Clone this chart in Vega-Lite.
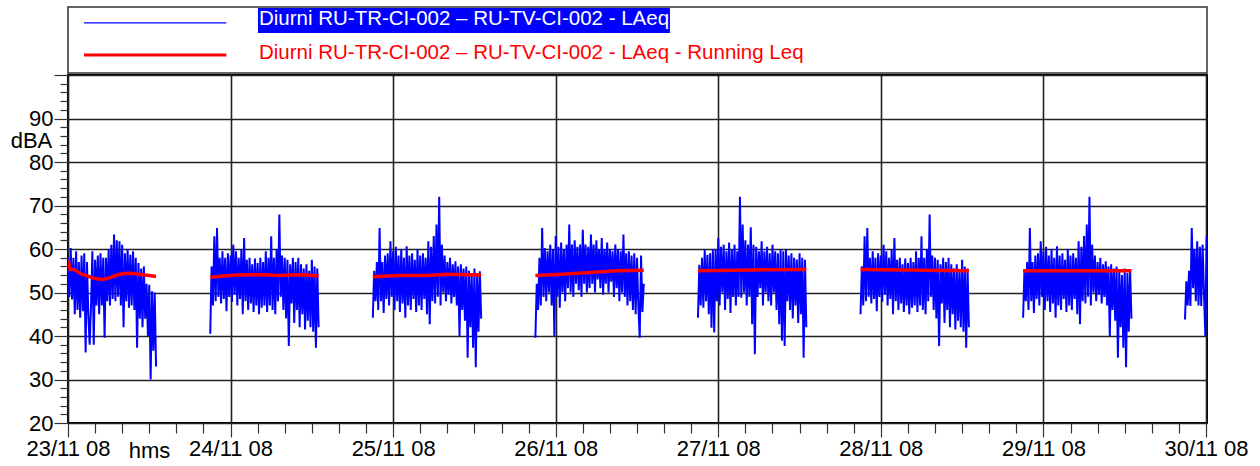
{
"$schema": "https://vega.github.io/schema/vega-lite/v6.json",
"background": "white",
"padding": {"left": 9, "top": 6, "right": 5, "bottom": 5},
"config": {"view": {"stroke": null}, "font": "Liberation Sans"},
"spacing": 2,
"bounds": "flush",
"datasets": {
"legend": [{"series": "Diurni RU-TR-CI-002 – RU-TV-CI-002 - LAeq"}, {"series": "Diurni RU-TR-CI-002 – RU-TV-CI-002 - LAeq - Running Leq"}],
"laeq": [
{"h":0,"v":58},{"h":0.2,"v":49},{"h":0.4,"v":60.2},{"h":0.6,"v":48.4},{"h":0.8,"v":58},{"h":1,"v":45},{"h":1.2,"v":59.5},{"h":1.4,"v":46},{"h":1.6,"v":57},{"h":1.8,"v":44.2},{"h":2,"v":58.5},{"h":2.2,"v":45.7},{"h":2.4,"v":59},{"h":2.6,"v":36.2},{"h":2.8,"v":57},{"h":3,"v":45},{"h":3.2,"v":38},{"h":3.4,"v":47},{"h":3.6,"v":59.5},{"h":3.8,"v":38},{"h":4,"v":57.5},{"h":4.2,"v":47},{"h":4.4,"v":58.5},{"h":4.6,"v":45},{"h":4.8,"v":59},{"h":5,"v":47},{"h":5.2,"v":58},{"h":5.4,"v":39.6},{"h":5.6,"v":58},{"h":5.8,"v":48},{"h":6,"v":60},{"h":6.2,"v":47},{"h":6.4,"v":61},{"h":6.6,"v":48.5},{"h":6.8,"v":63.3},{"h":7,"v":48},{"h":7.2,"v":62},{"h":7.4,"v":49},{"h":7.6,"v":61.8},{"h":7.8,"v":47},{"h":8,"v":61},{"h":8.2,"v":42},{"h":8.4,"v":59},{"h":8.6,"v":48},{"h":8.8,"v":60},{"h":9,"v":46.5},{"h":9.2,"v":58.7},{"h":9.4,"v":47},{"h":9.6,"v":59.5},{"h":9.8,"v":46},{"h":10,"v":58},{"h":10.2,"v":37.3},{"h":10.4,"v":56.8},{"h":10.6,"v":44},{"h":10.8,"v":55.5},{"h":11,"v":42},{"h":11.2,"v":56},{"h":11.4,"v":44},{"h":11.6,"v":52},{"h":11.8,"v":40},{"h":12,"v":51.8},{"h":12.2,"v":30},{"h":12.4,"v":50.3},{"h":12.6,"v":36.6},{"h":12.8,"v":50},{"h":13,"v":33},
{"h":17,"v":null},
{"h":21,"v":40.5},{"h":21.2,"v":56},{"h":21.4,"v":47},{"h":21.6,"v":62.9},{"h":21.8,"v":48},{"h":22,"v":64.8},{"h":22.2,"v":49},{"h":22.4,"v":58},{"h":22.6,"v":47.5},{"h":22.8,"v":59.5},{"h":23,"v":48.5},{"h":23.2,"v":58},{"h":23.4,"v":45.7},{"h":23.6,"v":59},{"h":23.8,"v":49},{"h":24,"v":58.5},{"h":24.2,"v":47.8},{"h":24.4,"v":61},{"h":24.6,"v":49.5},{"h":24.8,"v":59.5},{"h":25,"v":47},{"h":25.2,"v":58},{"h":25.4,"v":48.5},{"h":25.6,"v":60},{"h":25.8,"v":45},{"h":26,"v":62.5},{"h":26.2,"v":48},{"h":26.4,"v":57.5},{"h":26.6,"v":46},{"h":26.8,"v":58},{"h":27,"v":47.5},{"h":27.2,"v":56.5},{"h":27.4,"v":45.5},{"h":27.6,"v":57.8},{"h":27.8,"v":47},{"h":28,"v":56.8},{"h":28.2,"v":45},{"h":28.4,"v":58},{"h":28.6,"v":46.5},{"h":28.8,"v":57},{"h":29,"v":47},{"h":29.2,"v":59.5},{"h":29.4,"v":45.5},{"h":29.6,"v":58},{"h":29.8,"v":47},{"h":30,"v":62.9},{"h":30.2,"v":46},{"h":30.4,"v":58},{"h":30.6,"v":45},{"h":30.8,"v":60},{"h":31,"v":48},{"h":31.2,"v":67.9},{"h":31.4,"v":49},{"h":31.6,"v":58.5},{"h":31.8,"v":46},{"h":32,"v":58},{"h":32.2,"v":44},{"h":32.4,"v":57.5},{"h":32.6,"v":37.7},{"h":32.8,"v":56.5},{"h":33,"v":47.5},{"h":33.2,"v":58},{"h":33.4,"v":43},{"h":33.6,"v":57},{"h":33.8,"v":46},{"h":34,"v":58},{"h":34.2,"v":42},{"h":34.4,"v":56.5},{"h":34.6,"v":45},{"h":34.8,"v":55.5},{"h":35,"v":41.5},{"h":35.2,"v":56.5},{"h":35.4,"v":43.5},{"h":35.6,"v":55},{"h":35.8,"v":42},{"h":36,"v":57.5},{"h":36.2,"v":41},{"h":36.4,"v":56},{"h":36.6,"v":37.3},{"h":36.8,"v":55.5},{"h":37,"v":42},
{"h":41,"v":null},
{"h":45,"v":44.2},{"h":45.2,"v":55},{"h":45.4,"v":48},{"h":45.6,"v":57},{"h":45.8,"v":46},{"h":46,"v":64.8},{"h":46.2,"v":48},{"h":46.4,"v":57},{"h":46.6,"v":45.3},{"h":46.8,"v":58.5},{"h":47,"v":48.5},{"h":47.2,"v":59},{"h":47.4,"v":47},{"h":47.6,"v":61.8},{"h":47.8,"v":49},{"h":48,"v":59.5},{"h":48.2,"v":46},{"h":48.4,"v":60.5},{"h":48.6,"v":48},{"h":48.8,"v":58.5},{"h":49,"v":45.5},{"h":49.2,"v":60},{"h":49.4,"v":47.5},{"h":49.6,"v":58},{"h":49.8,"v":44.2},{"h":50,"v":60.6},{"h":50.2,"v":47},{"h":50.4,"v":58.5},{"h":50.6,"v":46},{"h":50.8,"v":59},{"h":51,"v":48.5},{"h":51.2,"v":57.5},{"h":51.4,"v":45.5},{"h":51.6,"v":60},{"h":51.8,"v":47},{"h":52,"v":58.5},{"h":52.2,"v":46},{"h":52.4,"v":59},{"h":52.6,"v":48.5},{"h":52.8,"v":58},{"h":53,"v":45},{"h":53.2,"v":61.8},{"h":53.4,"v":42.7},{"h":53.6,"v":60.5},{"h":53.8,"v":48},{"h":54,"v":63},{"h":54.2,"v":47.5},{"h":54.4,"v":65.6},{"h":54.6,"v":49},{"h":54.8,"v":72},{"h":55,"v":47},{"h":55.2,"v":61},{"h":55.4,"v":50},{"h":55.6,"v":58.5},{"h":55.8,"v":48},{"h":56,"v":57},{"h":56.2,"v":49.5},{"h":56.4,"v":58},{"h":56.6,"v":47.5},{"h":56.8,"v":56.5},{"h":57,"v":49},{"h":57.2,"v":57.2},{"h":57.4,"v":47},{"h":57.6,"v":56},{"h":57.8,"v":40},{"h":58,"v":56.5},{"h":58.2,"v":46},{"h":58.4,"v":55.5},{"h":58.6,"v":43.5},{"h":58.8,"v":56},{"h":59,"v":35},{"h":59.2,"v":55},{"h":59.4,"v":42},{"h":59.6,"v":54},{"h":59.8,"v":37.3},{"h":60,"v":55.5},{"h":60.2,"v":32.8},{"h":60.4,"v":54.5},{"h":60.6,"v":41},{"h":60.8,"v":54.9},{"h":61,"v":44},
{"h":65,"v":null},
{"h":69,"v":39.6},{"h":69.2,"v":52},{"h":69.4,"v":46},{"h":69.6,"v":58},{"h":69.8,"v":47},{"h":70,"v":64.8},{"h":70.2,"v":49},{"h":70.4,"v":60.2},{"h":70.6,"v":48},{"h":70.8,"v":59.5},{"h":71,"v":50},{"h":71.2,"v":61},{"h":71.4,"v":47},{"h":71.6,"v":60},{"h":71.8,"v":40},{"h":72,"v":63},{"h":72.2,"v":49},{"h":72.4,"v":60.5},{"h":72.6,"v":46.5},{"h":72.8,"v":61.5},{"h":73,"v":50},{"h":73.2,"v":60},{"h":73.4,"v":48},{"h":73.6,"v":61},{"h":73.8,"v":51},{"h":74,"v":65.6},{"h":74.2,"v":50},{"h":74.4,"v":61},{"h":74.6,"v":49},{"h":74.8,"v":62},{"h":75,"v":52},{"h":75.2,"v":60.5},{"h":75.4,"v":50.5},{"h":75.6,"v":61},{"h":75.8,"v":49},{"h":76,"v":64.4},{"h":76.2,"v":52},{"h":76.4,"v":61},{"h":76.6,"v":50},{"h":76.8,"v":60.5},{"h":77,"v":51},{"h":77.2,"v":63.3},{"h":77.4,"v":52},{"h":77.6,"v":61},{"h":77.8,"v":50},{"h":78,"v":62},{"h":78.2,"v":53},{"h":78.4,"v":60},{"h":78.6,"v":51},{"h":78.8,"v":62.5},{"h":79,"v":49.5},{"h":79.2,"v":60},{"h":79.4,"v":52},{"h":79.6,"v":61.5},{"h":79.8,"v":50},{"h":80,"v":60},{"h":80.2,"v":52.5},{"h":80.4,"v":59.5},{"h":80.6,"v":49},{"h":80.8,"v":61},{"h":81,"v":51},{"h":81.2,"v":60},{"h":81.4,"v":48},{"h":81.6,"v":59.5},{"h":81.8,"v":50},{"h":82,"v":63.3},{"h":82.2,"v":49},{"h":82.4,"v":59},{"h":82.6,"v":47},{"h":82.8,"v":59.5},{"h":83,"v":48},{"h":83.2,"v":58.5},{"h":83.4,"v":46},{"h":83.6,"v":59},{"h":83.8,"v":45},{"h":84,"v":58},{"h":84.2,"v":47},{"h":84.4,"v":39.6},{"h":84.6,"v":58.5},{"h":84.8,"v":45.5},{"h":85,"v":52},
{"h":89,"v":null},
{"h":93,"v":44.2},{"h":93.2,"v":56.4},{"h":93.4,"v":47},{"h":93.6,"v":58},{"h":93.8,"v":46.5},{"h":94,"v":59.8},{"h":94.2,"v":48},{"h":94.4,"v":58.7},{"h":94.6,"v":45},{"h":94.8,"v":59},{"h":95,"v":41.9},{"h":95.2,"v":60},{"h":95.4,"v":40.8},{"h":95.6,"v":60},{"h":95.8,"v":48},{"h":96,"v":62.5},{"h":96.2,"v":47},{"h":96.4,"v":60.5},{"h":96.6,"v":50},{"h":96.8,"v":61},{"h":97,"v":46},{"h":97.2,"v":59.5},{"h":97.4,"v":48.5},{"h":97.6,"v":61.5},{"h":97.8,"v":45.3},{"h":98,"v":60},{"h":98.2,"v":49},{"h":98.4,"v":61},{"h":98.6,"v":47},{"h":98.8,"v":59.5},{"h":99,"v":49},{"h":99.2,"v":72},{"h":99.4,"v":48.8},{"h":99.6,"v":65.6},{"h":99.8,"v":50},{"h":100,"v":62},{"h":100.2,"v":47},{"h":100.4,"v":61},{"h":100.6,"v":49},{"h":100.8,"v":65},{"h":101,"v":42.7},{"h":101.2,"v":61},{"h":101.4,"v":35.8},{"h":101.6,"v":60.5},{"h":101.8,"v":49},{"h":102,"v":59.5},{"h":102.2,"v":51},{"h":102.4,"v":61.8},{"h":102.6,"v":47},{"h":102.8,"v":59.5},{"h":103,"v":50},{"h":103.2,"v":60.5},{"h":103.4,"v":48},{"h":103.6,"v":59},{"h":103.8,"v":47},{"h":104,"v":61},{"h":104.2,"v":50},{"h":104.4,"v":59.5},{"h":104.6,"v":46},{"h":104.8,"v":59},{"h":105,"v":42.7},{"h":105.2,"v":60},{"h":105.4,"v":38.9},{"h":105.6,"v":59.5},{"h":105.8,"v":37.7},{"h":106,"v":59.8},{"h":106.2,"v":48},{"h":106.4,"v":58.5},{"h":106.6,"v":46},{"h":106.8,"v":59},{"h":107,"v":44},{"h":107.2,"v":58},{"h":107.4,"v":47},{"h":107.6,"v":57.6},{"h":107.8,"v":43},{"h":108,"v":59},{"h":108.2,"v":45},{"h":108.4,"v":58},{"h":108.6,"v":35},{"h":108.8,"v":57.5},{"h":109,"v":42},
{"h":113,"v":null},
{"h":117,"v":45},{"h":117.2,"v":56},{"h":117.4,"v":47},{"h":117.6,"v":62.9},{"h":117.8,"v":48},{"h":118,"v":64.8},{"h":118.2,"v":49},{"h":118.4,"v":58},{"h":118.6,"v":47.5},{"h":118.8,"v":59.5},{"h":119,"v":48.5},{"h":119.2,"v":58},{"h":119.4,"v":45.7},{"h":119.6,"v":59},{"h":119.8,"v":49},{"h":120,"v":58.5},{"h":120.2,"v":47.8},{"h":120.4,"v":61},{"h":120.6,"v":49.5},{"h":120.8,"v":59.5},{"h":121,"v":47},{"h":121.2,"v":58},{"h":121.4,"v":48.5},{"h":121.6,"v":60},{"h":121.8,"v":45},{"h":122,"v":62.5},{"h":122.2,"v":48},{"h":122.4,"v":57.5},{"h":122.6,"v":46},{"h":122.8,"v":58},{"h":123,"v":47.5},{"h":123.2,"v":56.5},{"h":123.4,"v":45.5},{"h":123.6,"v":57.8},{"h":123.8,"v":47},{"h":124,"v":56.8},{"h":124.2,"v":45},{"h":124.4,"v":58},{"h":124.6,"v":46.5},{"h":124.8,"v":57},{"h":125,"v":47},{"h":125.2,"v":59.5},{"h":125.4,"v":45.5},{"h":125.6,"v":58},{"h":125.8,"v":47},{"h":126,"v":62.9},{"h":126.2,"v":46},{"h":126.4,"v":58},{"h":126.6,"v":45},{"h":126.8,"v":60},{"h":127,"v":48},{"h":127.2,"v":67.9},{"h":127.4,"v":49},{"h":127.6,"v":58.5},{"h":127.8,"v":46},{"h":128,"v":58},{"h":128.2,"v":44},{"h":128.4,"v":57.5},{"h":128.6,"v":37.7},{"h":128.8,"v":56.5},{"h":129,"v":47.5},{"h":129.2,"v":58},{"h":129.4,"v":43},{"h":129.6,"v":57},{"h":129.8,"v":46},{"h":130,"v":58},{"h":130.2,"v":42},{"h":130.4,"v":56.5},{"h":130.6,"v":45},{"h":130.8,"v":55.5},{"h":131,"v":41.5},{"h":131.2,"v":56.5},{"h":131.4,"v":43.5},{"h":131.6,"v":55},{"h":131.8,"v":42},{"h":132,"v":57.5},{"h":132.2,"v":41},{"h":132.4,"v":56},{"h":132.6,"v":37.3},{"h":132.8,"v":55.5},{"h":133,"v":42},
{"h":137,"v":null},
{"h":141,"v":44.2},{"h":141.2,"v":55},{"h":141.4,"v":48},{"h":141.6,"v":57},{"h":141.8,"v":46},{"h":142,"v":64.8},{"h":142.2,"v":48},{"h":142.4,"v":57},{"h":142.6,"v":45.3},{"h":142.8,"v":58.5},{"h":143,"v":48.5},{"h":143.2,"v":59},{"h":143.4,"v":47},{"h":143.6,"v":61.8},{"h":143.8,"v":49},{"h":144,"v":59.5},{"h":144.2,"v":46},{"h":144.4,"v":60.5},{"h":144.6,"v":48},{"h":144.8,"v":58.5},{"h":145,"v":45.5},{"h":145.2,"v":60},{"h":145.4,"v":47.5},{"h":145.6,"v":58},{"h":145.8,"v":44.2},{"h":146,"v":60.6},{"h":146.2,"v":47},{"h":146.4,"v":58.5},{"h":146.6,"v":46},{"h":146.8,"v":59},{"h":147,"v":48.5},{"h":147.2,"v":57.5},{"h":147.4,"v":45.5},{"h":147.6,"v":60},{"h":147.8,"v":47},{"h":148,"v":58.5},{"h":148.2,"v":46},{"h":148.4,"v":59},{"h":148.6,"v":48.5},{"h":148.8,"v":58},{"h":149,"v":45},{"h":149.2,"v":61.8},{"h":149.4,"v":42.7},{"h":149.6,"v":60.5},{"h":149.8,"v":48},{"h":150,"v":63},{"h":150.2,"v":47.5},{"h":150.4,"v":65.6},{"h":150.6,"v":49},{"h":150.8,"v":72},{"h":151,"v":47},{"h":151.2,"v":61},{"h":151.4,"v":50},{"h":151.6,"v":58.5},{"h":151.8,"v":48},{"h":152,"v":57},{"h":152.2,"v":49.5},{"h":152.4,"v":58},{"h":152.6,"v":47.5},{"h":152.8,"v":56.5},{"h":153,"v":49},{"h":153.2,"v":57.2},{"h":153.4,"v":47},{"h":153.6,"v":56},{"h":153.8,"v":40},{"h":154,"v":56.5},{"h":154.2,"v":46},{"h":154.4,"v":55.5},{"h":154.6,"v":43.5},{"h":154.8,"v":56},{"h":155,"v":35},{"h":155.2,"v":55},{"h":155.4,"v":42},{"h":155.6,"v":54},{"h":155.8,"v":37.3},{"h":156,"v":55.5},{"h":156.2,"v":32.8},{"h":156.4,"v":54.5},{"h":156.6,"v":41},{"h":156.8,"v":54.9},{"h":157,"v":44},
{"h":161,"v":null},
{"h":164.9,"v":43.8},{"h":165.1,"v":52.6},{"h":165.3,"v":47},{"h":165.5,"v":55},{"h":165.7,"v":46.9},{"h":165.9,"v":64.8},{"h":166.1,"v":51},{"h":166.3,"v":60},{"h":166.5,"v":48},{"h":166.7,"v":61.8},{"h":166.9,"v":47},{"h":167.1,"v":60.5},{"h":167.3,"v":46.9},{"h":167.5,"v":61},{"h":167.7,"v":50},{"h":167.9,"v":40},{"h":168.1,"v":62.9}
],
"leq": [
{"h":0,"r":57.5},{"h":0.3,"r":55.3},{"h":1,"r":55.2},{"h":2,"r":54.2},{"h":3,"r":53.7},{"h":4,"r":53.2},{"h":5,"r":53},{"h":6,"r":53.3},{"h":7,"r":53.9},{"h":8,"r":54.3},{"h":9,"r":54.4},{"h":10,"r":54.3},{"h":11,"r":54.1},{"h":12,"r":53.9},{"h":13,"r":53.7},{"h":17,"r":null},
{"h":21,"r":53.5},{"h":23,"r":53.8},{"h":25,"r":54},{"h":27,"r":54.1},{"h":29,"r":54.1},{"h":31,"r":53.9},{"h":33,"r":54},{"h":35,"r":54.1},{"h":37,"r":53.8},{"h":41,"r":null},
{"h":45,"r":53.6},{"h":47,"r":53.8},{"h":49,"r":53.9},{"h":53,"r":53.9},{"h":56,"r":54.2},{"h":61,"r":54},{"h":65,"r":null},
{"h":69,"r":53.9},{"h":73,"r":54.2},{"h":77,"r":54.6},{"h":81,"r":55},{"h":85,"r":55.1},{"h":89,"r":null},
{"h":93,"r":55},{"h":101,"r":55.2},{"h":109,"r":55.3},{"h":113,"r":null},
{"h":117,"r":55.3},{"h":133,"r":55},{"h":137,"r":null},
{"h":141,"r":55},{"h":157,"r":55}
]
},
"vconcat": [
{
"width": 1139, "height": 66,
"view": {"stroke": "#333333", "strokeWidth": 1.5, "fill": "white"},
"data": {"name": "legend"},
"encoding": {"y": {"field": "series", "type": "nominal", "scale": {"type": "band", "paddingInner": 0.254, "paddingOuter": 0.112, "align": 0.13}, "axis": null, "sort": null}},
"layer": [
{"transform": [{"filter": "indexof(datum.series, 'Running') < 0"}], "mark": {"type": "rect", "color": "#0000FF"},
 "encoding": {"x": {"datum": 0.1668, "type": "quantitative", "scale": {"domain": [0, 1]}, "axis": null}, "x2": {"datum": 0.5285}}},
{"transform": [{"filter": "indexof(datum.series, 'Running') < 0"}], "mark": {"type": "rule", "color": "#0000FF", "strokeWidth": 1.2, "yOffset": 2.5},
 "encoding": {"x": {"datum": 0.014, "type": "quantitative", "scale": {"domain": [0, 1]}, "axis": null}, "x2": {"datum": 0.139}}},
{"transform": [{"filter": "indexof(datum.series, 'Running') >= 0"}], "mark": {"type": "rule", "color": "#FF0000", "strokeWidth": 3, "yOffset": 1},
 "encoding": {"x": {"datum": 0.014, "type": "quantitative", "scale": {"domain": [0, 1]}, "axis": null}, "x2": {"datum": 0.139}}},
{"transform": [{"filter": "indexof(datum.series, 'Running') < 0"}], "mark": {"type": "text", "align": "left", "baseline": "middle", "font": "Liberation Sans", "fontSize": 20.5, "color": "white", "dx": 1, "dy": -1},
 "encoding": {"x": {"datum": 0.1668, "type": "quantitative", "scale": {"domain": [0, 1]}, "axis": null}, "text": {"field": "series"}}},
{"transform": [{"filter": "indexof(datum.series, 'Running') >= 0"}], "mark": {"type": "text", "align": "left", "baseline": "middle", "font": "Liberation Sans", "fontSize": 20.5, "color": "#FF0000", "dx": 1, "dy": -1},
 "encoding": {"x": {"datum": 0.1668, "type": "quantitative", "scale": {"domain": [0, 1]}, "axis": null}, "text": {"field": "series"}}}
]
},
{
"width": 1139, "height": 348,
"view": {"stroke": "black", "strokeWidth": 2},
"resolve": {"axis": {"x": "independent", "y": "independent"}},
"layer": [
{
"data": {"name": "laeq"},
"mark": {"type": "line", "color": "#0000FF", "strokeWidth": 2, "clip": true},
"encoding": {
"x": {"field": "h", "type": "quantitative", "scale": {"domain": [0, 168.15], "nice": false, "zero": false},
 "axis": {"orient": "bottom", "values": [0, 24, 48, 72, 96, 120, 144, 168], "labelExpr": "timeFormat(datetime(2008, 10, 23 + datum.value / 24), '%d/%m %y')", "labelFlush": false, "labelOverlap": false, "grid": true, "gridColor": "#222222", "gridWidth": 1.6, "domain": false, "tickSize": 14, "tickColor": "#333333", "tickWidth": 1.2, "labelFont": "Liberation Sans", "labelFontSize": 22, "labelColor": "black", "labelPadding": 1, "title": "hms", "titleX": 81, "titleY": 34, "titleAlign": "center", "titleBaseline": "alphabetic", "titleFont": "Liberation Sans", "titleFontSize": 22, "titleFontWeight": "normal", "titleColor": "black"}},
"y": {"field": "v", "type": "quantitative", "scale": {"domain": [20, 100], "nice": false, "zero": false},
 "axis": {"orient": "left", "values": [20, 30, 40, 50, 60, 70, 80, 90, 100], "labelExpr": "datum.value == 100 ? '' : datum.label", "labelOverlap": false, "grid": true, "gridColor": "#222222", "gridWidth": 1.6, "domain": false, "tickSize": 14, "tickColor": "#333333", "tickWidth": 1.2, "labelFont": "Liberation Sans", "labelFontSize": 22, "labelColor": "black", "labelPadding": 1, "title": "dBA", "titleAngle": 0, "titleX": -37, "titleY": 72, "titleAlign": "center", "titleBaseline": "alphabetic", "titleFont": "Liberation Sans", "titleFontSize": 22, "titleFontWeight": "normal", "titleColor": "black"}}
}
},
{
"data": {"name": "leq"},
"mark": {"type": "line", "color": "#FF0000", "strokeWidth": 3.5, "clip": true},
"encoding": {
"x": {"field": "h", "type": "quantitative", "scale": {"domain": [0, 168.15], "nice": false, "zero": false},
 "axis": {"orient": "bottom", "values": [4, 8, 12, 16, 20, 28, 32, 36, 40, 44, 52, 56, 60, 64, 68, 76, 80, 84, 88, 92, 100, 104, 108, 112, 116, 124, 128, 132, 136, 140, 148, 152, 156, 160, 164], "labels": false, "grid": false, "domain": false, "tickSize": 10, "tickColor": "#333333", "tickWidth": 1.2, "title": null}},
"y": {"field": "r", "type": "quantitative", "scale": {"domain": [20, 100], "nice": false, "zero": false},
 "axis": {"orient": "left", "values": [22, 24, 26, 28, 32, 34, 36, 38, 42, 44, 46, 48, 52, 54, 56, 58, 62, 64, 66, 68, 72, 74, 76, 78, 82, 84, 86, 88, 92, 94, 96, 98], "labels": false, "grid": false, "domain": false, "tickSize": 8, "tickColor": "#333333", "tickWidth": 1.2, "title": null}}
}
}
]
}
]
}
